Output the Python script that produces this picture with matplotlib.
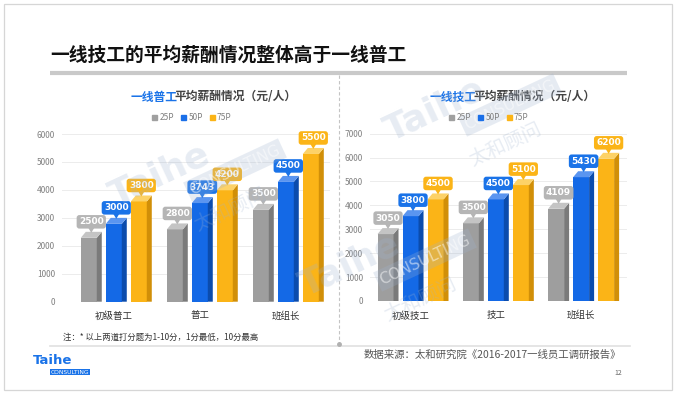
import numpy as np
import matplotlib.pyplot as plt
from matplotlib.patches import Rectangle, Patch

plt.rcParams['font.family'] = ['Noto Sans CJK SC', 'DejaVu Sans']

# data
series = ['25P', '50P', '75P']
left_cats = ['初级普工', '普工', '班组长']
left_vals = [[2500, 2800, 3500],   # 25P
             [3000, 3743, 4500],   # 50P
             [3800, 4200, 5500]]   # 75P
right_cats = ['初级技工', '技工', '班组长']
right_vals = [[3050, 3500, 4109],
              [3800, 4500, 5430],
              [4500, 5100, 6200]]

front = ['#9e9e9e', '#1469e6', '#fbb417']
side = ['#7a7a7a', '#0b4cad', '#d18f08']
top = ['#c4c4c4', '#5a95f0', '#fdd267']
lab = ['#b5b5b5', '#1a73e8', '#fbb417']

W, H = 681, 397
fig = plt.figure(figsize=(W / 100, H / 100), dpi=100)

# page layer in pixel coordinates
bg = fig.add_axes([0, 0, 1, 1])
bg.set_xlim(0, W)
bg.set_ylim(H, 0)
bg.axis('off')
bg.add_patch(Rectangle((4, 4), 668, 386, fill=False, ec='#d6d6d6', lw=0.9))
bg.text(50, 55, '一线技工的平均薪酬情况整体高于一线普工', fontsize=13.5,
        fontweight='bold', color='#111111', va='center', ha='left')
bg.plot([50, 627], [73, 73], color='#c9c9c9', lw=3, solid_capstyle='butt')
bg.plot([50, 630], [346, 346], color='#e0e0e0', lw=1.2)
bg.plot([339, 339], [75, 344], color='#c4c4c4', lw=0.8, ls=(0, (3, 2)))
bg.plot([339], [344], 'o', color='#b0b0b0', ms=2.5)

# subtitles
for x0, name in [(131, '一线普工'), (430, '一线技工')]:
    t = bg.text(x0, 97, name, fontsize=8.5, fontweight='bold', color='#1a73e8', va='center')
    bg.annotate('平均薪酬情况（元/人）', xy=(1, 0.5), xycoords=t, xytext=(-2.5, 0),
                textcoords='offset points', va='center', ha='left',
                fontsize=8.5, fontweight='bold', color='#444444')

# footer
bg.text(63, 337, '注：* 以上两道打分题为1-10分，1分最低，10分最高', fontsize=6,
        style='italic', color='#333333', va='center')
bg.text(621, 355, '数据来源：太和研究院《2016-2017一线员工调研报告》', fontsize=7.5,
        style='italic', color='#555555', va='center', ha='right')
bg.text(622, 373, '12', fontsize=5, color='#666666', va='center', ha='right')
bg.text(33, 361, 'Taihe', fontsize=9.5, fontweight='bold', color='#1a73e8',
        family='DejaVu Sans', va='center')
bg.text(51, 372, 'CONSULTING', fontsize=4.3, color='white', family='DejaVu Sans', va='center',
        bbox=dict(boxstyle='square,pad=0.15', fc='#1a73e8', ec='none'))


def draw_chart(rect, cats, vals, ymax, xlim, legend_x):
    ax = fig.add_axes(rect)
    ax.set_xlim(*xlim)
    ax.set_ylim(0, ymax)
    hpx = rect[3] * H
    upx = ymax / hpx                      # data units per pixel (y)
    xpx = (xlim[1] - xlim[0]) / (rect[2] * W)  # data units per pixel (x)
    w = 16 * xpx
    gap = 25 * xpx
    dx = 5 * xpx
    dy = 6 * upx
    x = np.arange(len(cats))
    for i in range(len(series)):
        xs = x + (i - 1) * gap
        v = np.array(vals[i])
        ax.bar(xs, v - dy, width=w, color=front[i], zorder=3, lw=0)
        for xx, vv in zip(xs, v):
            r = xx + w / 2
            ax.fill([r, r + dx, r + dx, r], [0, 0, vv, vv - dy], color=side[i], zorder=3, lw=0)
            ax.fill([xx - w / 2, r, r + dx, xx - w / 2 + dx], [vv - dy, vv - dy, vv, vv],
                    color=top[i], zorder=3, lw=0)
            cx = xx + dx / 2
            ax.fill([cx - 3 * xpx, cx + 3 * xpx, cx], [vv + 4 * upx, vv + 4 * upx, vv - 1 * upx],
                    color=lab[i], zorder=4, lw=0)
            ax.text(cx, vv + 10 * upx, str(vv), fontsize=6.5, fontweight='bold', color='white',
                    family='DejaVu Sans', ha='center', va='center', zorder=5,
                    bbox=dict(boxstyle='round,pad=0.25,rounding_size=0.3', fc=lab[i], ec='none'))
    ax.set_yticks(np.arange(0, ymax + 1, 1000))
    ax.grid(axis='y', color='#ececec', lw=0.7, zorder=0)
    ax.set_xticks(x)
    ax.set_xticklabels(cats, fontsize=6.8, color='#333333', fontweight='medium')
    ax.tick_params(axis='x', length=0, pad=7)
    ax.tick_params(axis='y', length=0, pad=5, labelsize=6, labelcolor='#808080')
    for s in ax.spines.values():
        s.set_visible(False)
    ax.patch.set_alpha(0)
    handles = [Patch(color=c, label=s) for c, s in zip(['#a0a0a0', '#1a6fe8', '#fbb417'], series)]
    fig.legend(handles=handles, loc='center', bbox_to_anchor=(legend_x / W, 1 - 118 / H),
               ncol=3, frameon=False, fontsize=6, handlelength=0.6, handleheight=0.6,
               handletextpad=0.3, columnspacing=0.8, labelcolor='#808080')
    return ax


draw_chart([62 / W, 1 - 301.7 / H, 268 / W, 167.7 / H], left_cats, left_vals, 6000,
           (-0.602, 2.514), 192)
draw_chart([370 / W, 1 - 301 / H, 257 / W, 167.3 / H], right_cats, right_vals, 7000,
           (-0.475, 2.538), 489)

# watermark
wm = fig.add_axes([0, 0, 1, 1])
wm.set_xlim(0, W)
wm.set_ylim(H, 0)
wm.axis('off')
wmc = '#9fb3cf'
for (x0, y0) in [(160, 175), (435, 110), (350, 265)]:
    wm.text(x0, y0, 'Taihe', fontsize=26, fontweight='bold', color=wmc, alpha=0.25,
            rotation=25, family='DejaVu Sans', ha='center', va='center')
    wm.text(x0 + 75, y0 - 5, 'CONSULTING', fontsize=11, color='white', alpha=0.5,
            rotation=25, family='DejaVu Sans', ha='center', va='center',
            bbox=dict(boxstyle='square,pad=0.2', fc=wmc, ec='none', alpha=0.25))
    wm.text(x0 + 70, y0 + 35, '太和顾问', fontsize=14, color=wmc, alpha=0.25,
            rotation=25, ha='center', va='center')

fig.savefig('out.png', dpi=100, facecolor='white')
